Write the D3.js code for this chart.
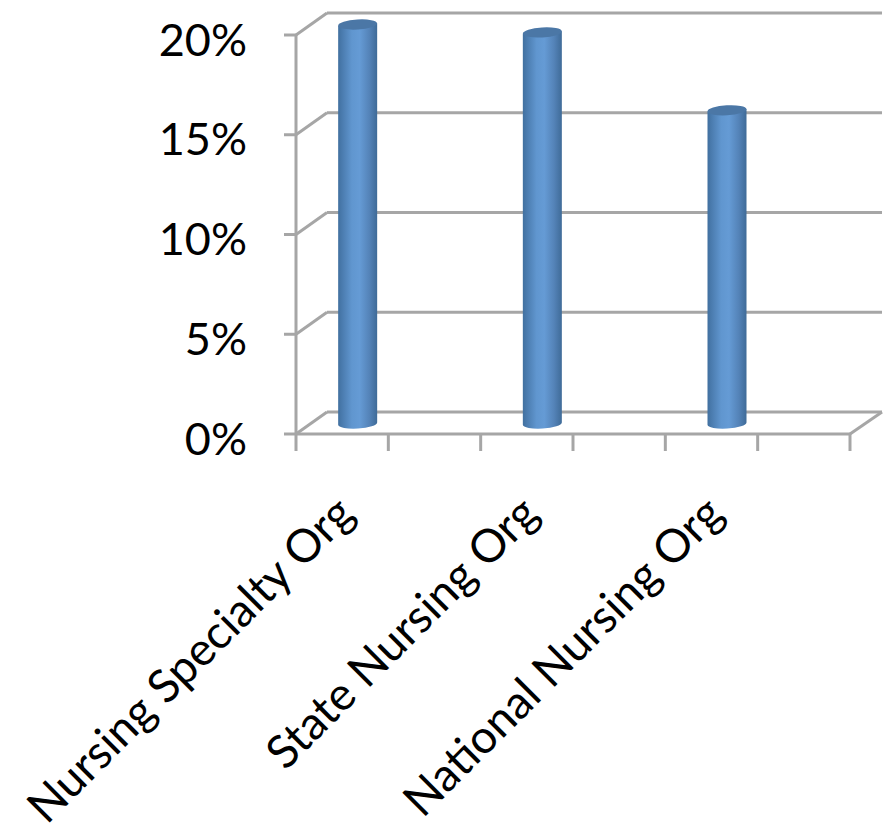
<!DOCTYPE html>
<html>
<head>
<meta charset="utf-8">
<script src="https://cdn.jsdelivr.net/npm/d3@7"></script>
<style>
html,body{margin:0;padding:0;background:#fff;}
svg{display:block;}
text{font-family:Lato,"Open Sans",sans-serif;fill:#000;}
</style>
</head>
<body>
<svg id="chart" width="884" height="833"></svg>
<script>
// Six slots along the axis; the spacer slots keep the columns apart.
const categories = ["Nursing Specialty Org", "", "State Nursing Org", " ", "National Nursing Org", "  "];
const seriesValues = [0.2, null, 0.196, null, 0.157, null];
const yTicks = [0, 0.05, 0.1, 0.15, 0.2];

const frontLeft = 296, frontRight = 850, frontBottom = 434, frontTop = 35;
const depthX = 31, depthY = -22;
const barWidth = 39;
const gridColor = "#a6a6a6";

const svg = d3.select("#chart");

const x = d3.scaleBand().domain(categories).range([frontLeft, frontRight]);
const y = d3.scaleLinear().domain([0, 0.2]).range([frontBottom, frontTop]);
const pct = d3.format(".0%");

// Horizontal shading that gives each column its rounded look
const defs = svg.append("defs");
const grad = defs.append("linearGradient").attr("id", "cyl")
  .attr("x1", "0").attr("x2", "1").attr("y1", "0").attr("y2", "0");
[[0, "#41709f"], [0.1, "#4a7bae"], [0.35, "#6096cf"], [0.55, "#659bd5"],
 [0.8, "#5483b8"], [1, "#3f6b98"]].forEach(([o, c]) =>
  grad.append("stop").attr("offset", o).attr("stop-color", c));

const soft = defs.append("filter").attr("id", "soft")
  .attr("filterUnits", "userSpaceOnUse")
  .attr("x", 0).attr("y", 0).attr("width", 884).attr("height", 833);
soft.append("feGaussianBlur").attr("stdDeviation", 0.45);

// Walls and floor of the 3D frame
const frame = svg.append("g").attr("filter", "url(#soft)")
  .attr("stroke", gridColor).attr("stroke-width", 3).attr("fill", "none");

yTicks.forEach(t => {
  const yy = y(t);
  frame.append("line").attr("x1", frontLeft).attr("x2", frontLeft + depthX)
    .attr("y1", yy).attr("y2", yy + depthY);
  frame.append("line").attr("x1", frontLeft + depthX).attr("x2", frontRight + depthX + 1)
    .attr("y1", yy + depthY).attr("y2", yy + depthY);
  frame.append("line").attr("x1", frontLeft - 12).attr("x2", frontLeft)
    .attr("y1", yy).attr("y2", yy);
});
frame.append("line").attr("x1", frontLeft).attr("x2", frontLeft)
  .attr("y1", frontTop).attr("y2", frontBottom + 17);
frame.append("line").attr("x1", frontLeft).attr("x2", frontRight)
  .attr("y1", frontBottom).attr("y2", frontBottom);
frame.append("line").attr("x1", frontRight).attr("x2", frontRight + depthX + 1)
  .attr("y1", frontBottom).attr("y2", frontBottom + depthY);

// Category ticks on the front edge of the floor
categories.forEach(c => {
  const tx = x(c) + x.bandwidth();
  frame.append("line").attr("x1", tx).attr("x2", tx)
    .attr("y1", frontBottom).attr("y2", frontBottom + 17);
});

// Columns: body with a tilted elliptical cap at each end
const rx = barWidth / 2, ry = 5, tilt = -3.5;
const barData = categories.map((c, i) => ({c, v: seriesValues[i]})).filter(d => d.v != null);
const bars = svg.append("g").selectAll("g").data(barData).join("g")
  .attr("transform", d => `translate(${x(d.c) + x.bandwidth() / 2 + depthX / 2},${depthY / 2 + 0.5})`);

bars.append("path")
  .attr("fill", "url(#cyl)")
  .attr("d", d => {
    const top = y(d.v), bottom = y(0);
    const dy = rx * Math.sin(tilt * Math.PI / 180);
    return `M${-rx},${top - dy}L${-rx},${bottom - dy}` +
      `A${rx},${ry} ${tilt} 0 0 ${rx},${bottom + dy}` +
      `L${rx},${top + dy}Z`;
  });

bars.append("ellipse")
  .attr("rx", rx).attr("ry", ry)
  .attr("fill", "#4b77a6")
  .attr("transform", d => `translate(0,${y(d.v)}) rotate(${tilt})`);

// Value axis labels
svg.append("g").selectAll("text").data(yTicks).join("text")
  .attr("x", 247).attr("y", d => y(d) + 8)
  .attr("dy", "0.28em")
  .attr("text-anchor", "end")
  .attr("font-size", 45)
  .text(pct);

// Slanted category labels
svg.append("g").selectAll("text").data(categories.filter(c => c.trim())).join("text")
  .attr("text-anchor", "end")
  .attr("font-size", 46)
  .attr("transform", c => `translate(${x(c) + x.bandwidth() - 32},516) rotate(-45)`)
  .text(c => c);
</script>
</body>
</html>
